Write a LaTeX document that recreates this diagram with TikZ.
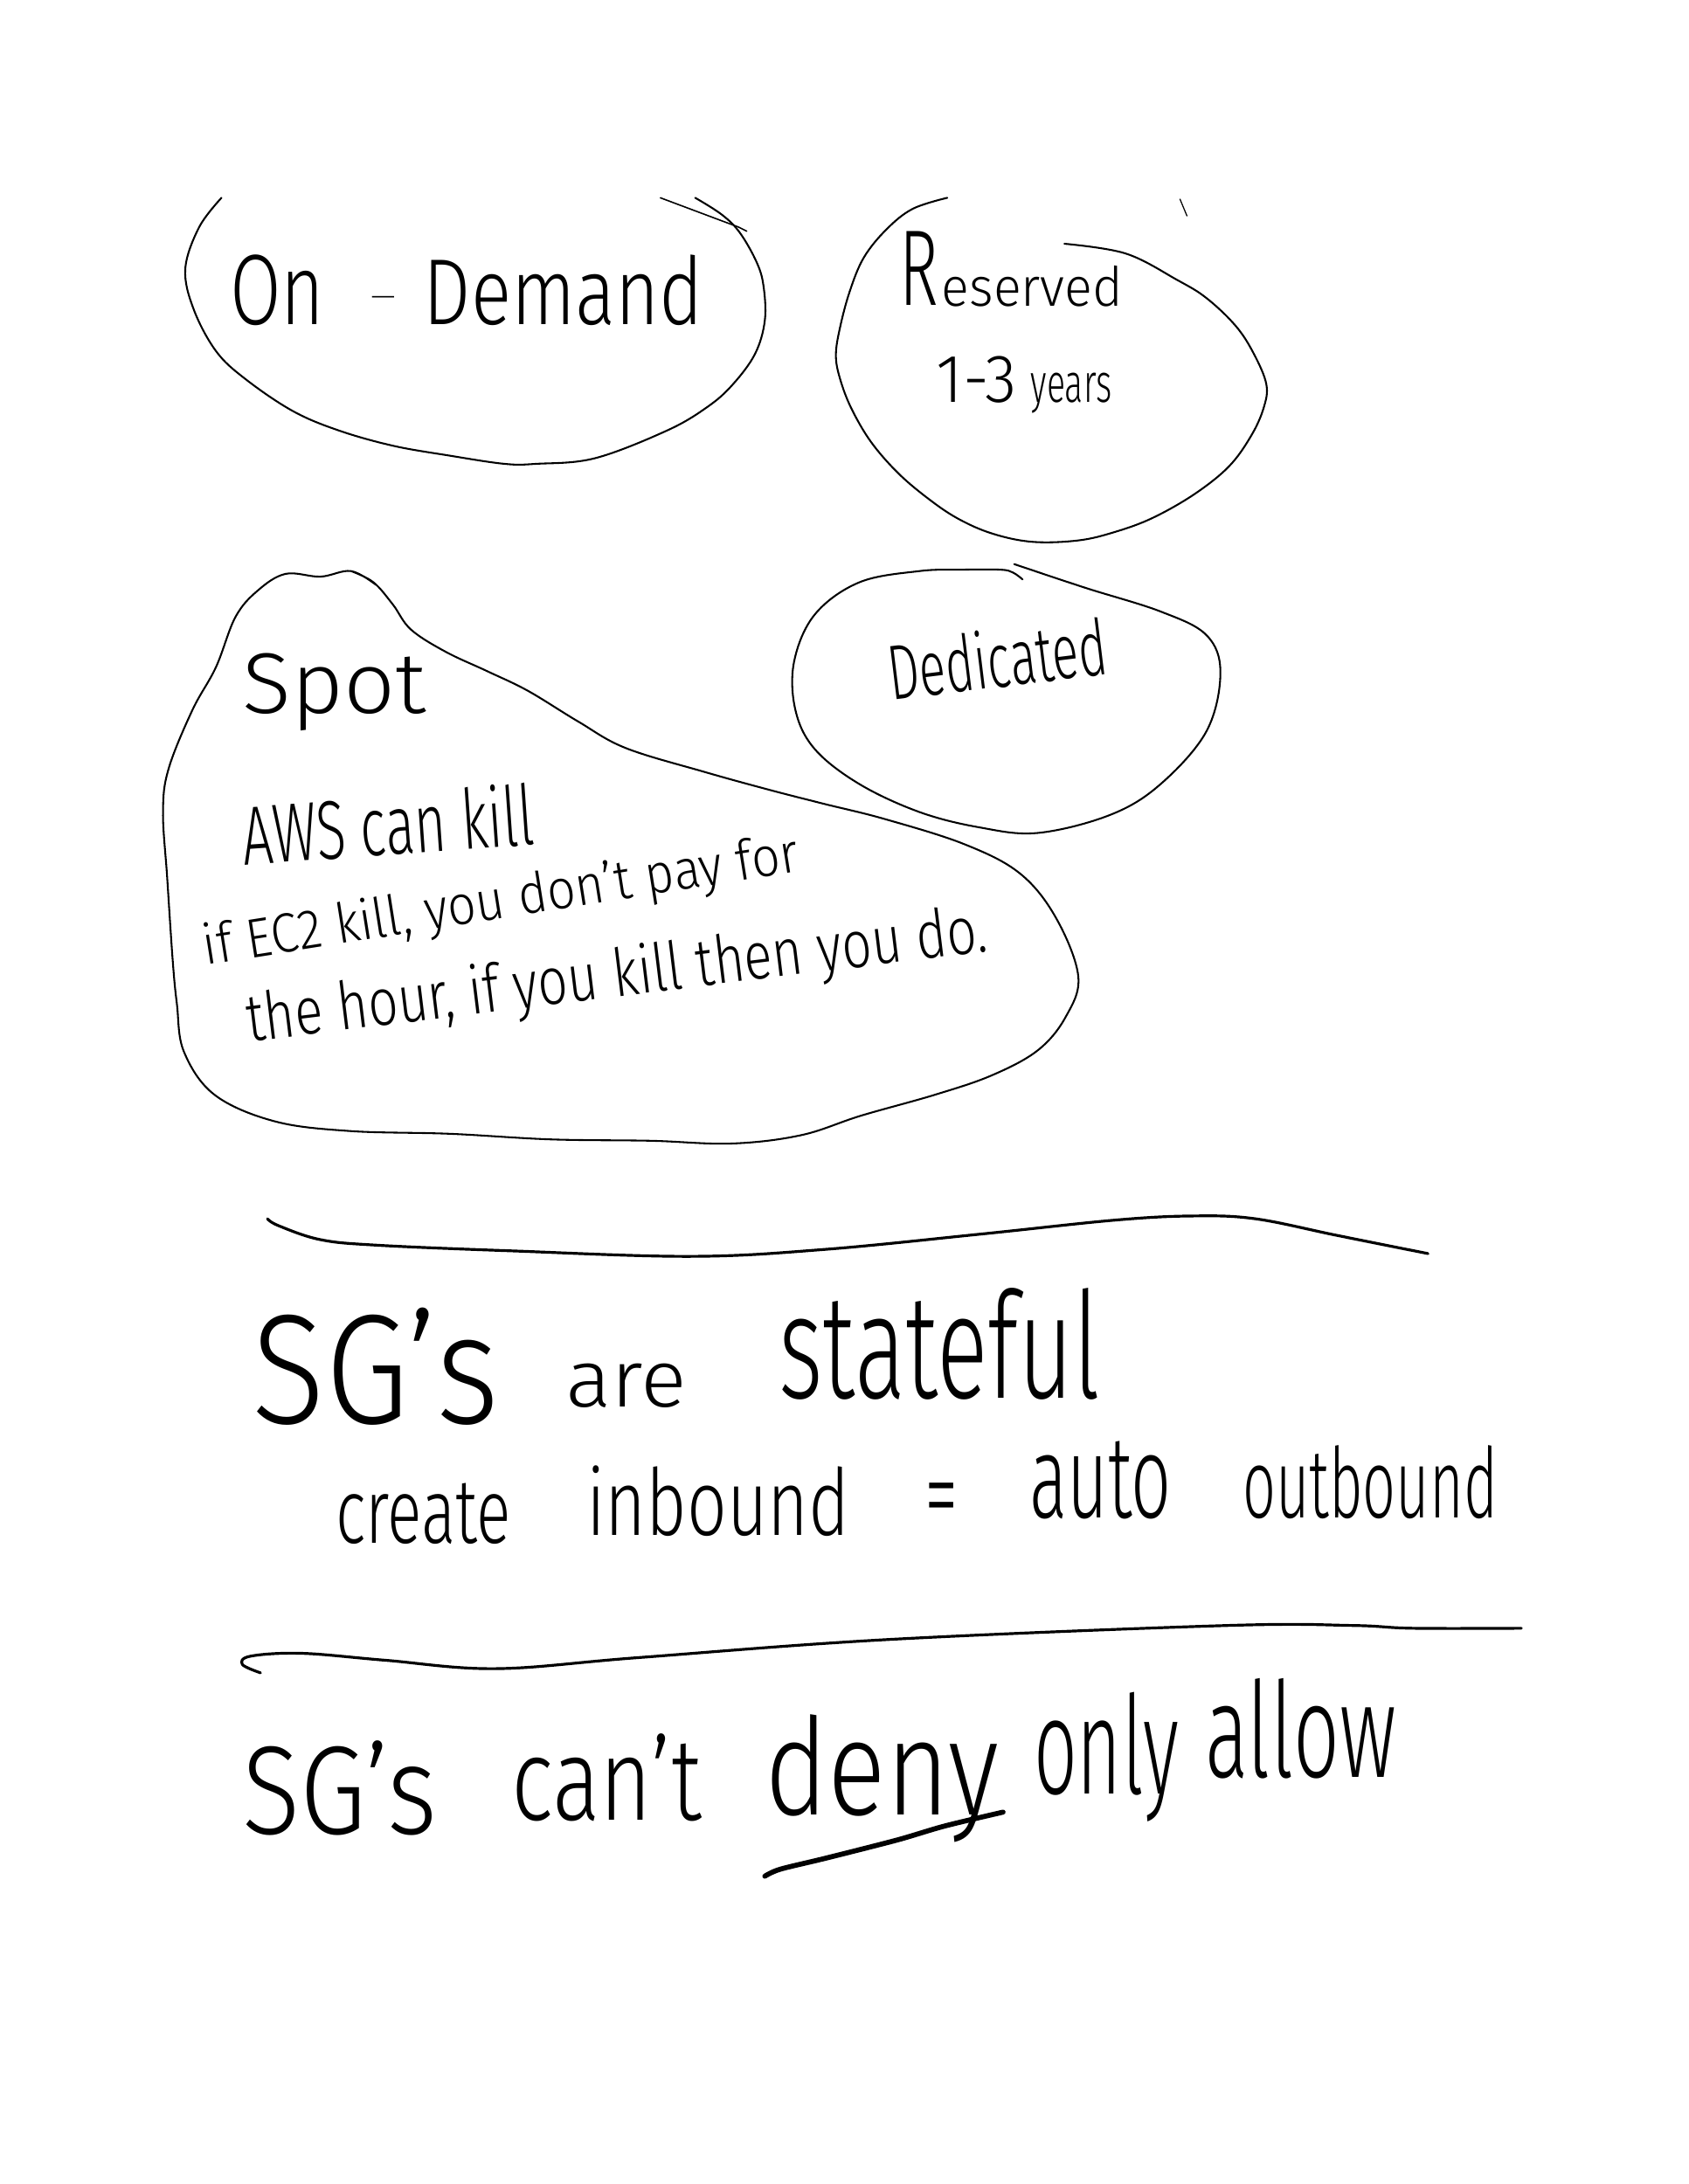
\documentclass[tikz,border=0pt]{standalone}
\usepackage{graphicx}
\usepackage{fontspec}
\setmainfont{Fira Sans Light}
\newcommand{\hw}[3]{\resizebox{#1pt}{#2pt}{#3}}
\tikzset{
  loopline/.style={line width=1.3pt, line cap=round, line join=round},
  ruleline/.style={line width=2pt, line cap=round},
  ulline/.style={line width=3.6pt, line cap=round},
  txt/.style={anchor=base west, inner sep=0pt, outer sep=0pt}
}
\begin{document}
\begin{tikzpicture}[x=1pt, y=-1pt]
\fill[white] (0,0) rectangle (1212,1568);
\useasboundingbox (0,0) rectangle (1212,1568);

% On-Demand loop
\draw[loopline] plot[smooth, tension=0.6] coordinates {(159,142) (143,163) (133,193) (139,222) (155,252) (176,272) (210,295) (243,309) (282,320) (322,327) (362,333) (385,333) (427,329) (479,309) (508,292) (526,276) (542,254) (549,230) (548,205) (543,188) (531,167) (518,154) (499,142)};
\draw[loopline, line width=1pt] plot[smooth] coordinates {(474,142) (498,151) (522,160) (530,163) (536,166)};
\node[txt] (on) at (165,233) {\hw{68}{50}{On}};
\node[txt] (dash) at (263,220) {\hw{24}{7}{-}};
\node[txt] (demand) at (304,233) {\hw{201}{50}{Demand}};

% Reserved loop
\draw[loopline] plot[smooth, tension=0.6] coordinates {(680,142) (655,150) (636,165) (620,185) (610,209) (603,235) (600,255) (603,272) (611,293) (625,317) (644,339) (665,357) (687,372) (712,383) (741,389) (774,388) (800,382) (827,372) (857,355) (882,335) (898,313) (907,293) (909,276) (900,254) (887,234) (866,214) (845,201) (808,182) (764,175)};
\draw[loopline, line width=0.8pt] (847,143) -- (852,155);
\node[txt] (resR) at (646,219) {\hw{28}{53}{R}};
\node[txt] (reserved) at (676,220) {\hw{130}{29}{eserved}};
\node[txt] (onethree) at (672,289) {\hw{58}{33}{1-3}};
\node[txt] (years) at (740,289) {\hw{58}{21}{years}};

% Spot loop
\draw[loopline] plot[smooth, tension=0.6] coordinates {(252,410) (268,418) (282,434) (295,452) (320,468) (350,482) (379,496) (415,518) (449,537) (505,554) (552,567) (591,577) (635,588) (692,606) (732,627) (758,659) (774,701) (765,730) (745,754) (712,772) (671,786) (618,801) (575,815) (525,821) (467,819) (395,818) (323,814) (251,812) (197,805) (154,786) (132,755) (127,721) (124,690) (120,630) (117,583) (121,552) (138,510) (155,479) (169,443) (185,424) (205,412) (230,414) (252,410) (270,420)};
\node[txt] (spot) at (174,512) {\hw{132}{43}{Spot}};
\node[txt, rotate=4] (awskill) at (175,621) {\hw{210}{45}{AWS can kill}};
\node[txt, rotate=9] (ec2kill) at (148,693) {\hw{432}{30}{if EC2 kill, you don't pay for}};
\node[txt, rotate=7] (hour) at (179,748) {\hw{535}{36}{the hour, if you kill then you do.}};

% Dedicated loop
\draw[loopline] plot[smooth, tension=0.6] coordinates {(734,416) (727,411) (718,409) (690,409) (660,410) (617,418) (585,441) (570,475) (571,510) (585,538) (617,563) (660,583) (703,594) (745,598) (797,585) (833,563) (866,525) (876,483) (866,456) (833,439) (779,422) (728,405)};
\node[txt, rotate=7] (dedicated) at (640,503) {\hw{158}{42}{Dedicated}};

% separator 1
\draw[ruleline] plot[smooth, tension=0.6] coordinates {(192,875) (200,880) (230,890) (271,894) (366,898) (496,902) (592,897) (704,886) (800,876) (856,873) (901,875) (960,887) (1025,900)};

% SG's are stateful
\node[txt] (sgs1) at (181,1022) {\hw{177}{83}{SG's}};
\node[txt] (are) at (406,1010) {\hw{87}{31}{are}};
\node[txt] (stateful) at (559,1004) {\hw{231}{79}{stateful}};

% create inbound = auto outbound
\node[txt] (create) at (241,1108) {\hw{126}{43}{create}};
\node[txt] (inb) at (421,1102) {\hw{189}{50}{inbound}};
\node[txt] (eq) at (664,1100) {\hw{24}{35}{=}};
\node[txt] (auto) at (739,1090) {\hw{102}{55}{auto}};
\node[txt] (outb) at (892,1090) {\hw{183}{52}{outbound}};

% separator 2
\draw[ruleline] plot[smooth, tension=0.6] coordinates {(187,1201) (174,1195) (180,1189) (217,1187) (277,1192) (356,1198) (459,1190) (639,1177) (881,1167) (971,1167) (1014,1169) (1092,1169)};

% SG's can't deny only allow
\node[txt] (sgs2) at (174,1317) {\hw{140}{67}{SG's}};
\node[txt] (cant) at (367,1307) {\hw{137}{62}{can't}};
\node[txt] (deny) at (549,1303) {\hw{168}{72}{deny}};
\node[txt] (only) at (742,1288) {\hw{104}{73}{only}};
\node[txt] (allow) at (865,1276) {\hw{137}{71}{allow}};
\draw[ulline] plot[smooth] coordinates {(549,1347) (560,1342) (593,1334) (644,1321) (678,1311) (720,1301)};
\end{tikzpicture}
\end{document}
